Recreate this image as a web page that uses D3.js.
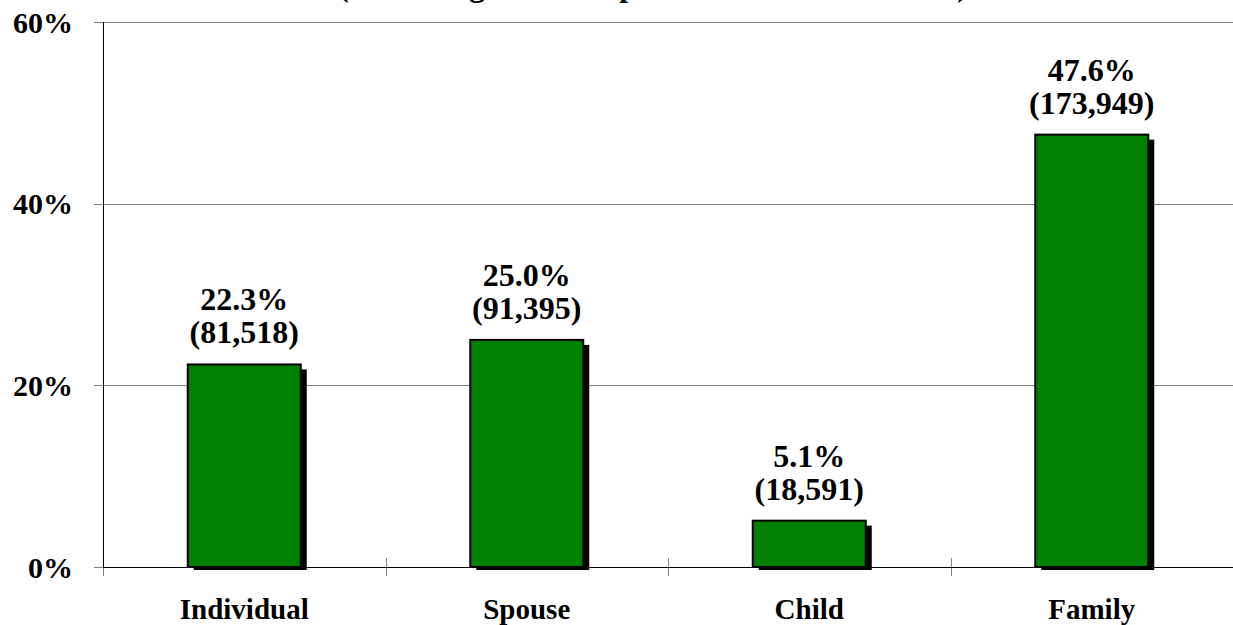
<!DOCTYPE html>
<meta charset="utf-8">
<style>
  body {
    margin: 0;
    background: #ffffff;
    font-family: "Liberation Serif", "Times New Roman", serif;
  }
  svg text {
    font-weight: bold;
    fill: #000000;
  }
  .grid line {
    stroke: #808080;
    stroke-width: 1;
    shape-rendering: crispEdges;
  }
  .ytick text { font-size: 30px; }
  .xlabel { font-size: 29px; }
  .vlabel { font-size: 32px; }
  .title { font-size: 32px; }
  .bar {
    fill: #008000;
    stroke: #000000;
    stroke-width: 2;
  }
  .shadow { fill: #000000; }
</style>
<body>
<script src="https://cdnjs.cloudflare.com/ajax/libs/d3/7.8.5/d3.min.js"></script>
<script>
var categories = ["Individual", "Spouse", "Child", "Family"];
var shares = [22.3, 25.0, 5.1, 47.6];
var counts = [81518, 91395, 18591, 173949];
var yTicks = [0, 20, 40, 60];

var width = 1233, height = 625;
var plotLeft = 103, plotRight = 1233, plotTop = 22, plotBottom = 567;

var svg = d3.select("body").append("svg")
    .attr("width", width)
    .attr("height", height);

var x = d3.scaleBand()
    .domain(categories)
    .range([plotLeft, plotRight])
    .paddingInner(0.6)
    .paddingOuter(0.3);

var y = d3.scaleLinear()
    .domain([0, 60])
    .range([plotBottom, plotTop]);

var step = x.step();
var fmtCount = d3.format(",");

// title, mostly cut off by the top edge
svg.append("text")
    .attr("class", "title")
    .attr("x", 338)
    .attr("y", -4)
    .text("(Percentage of Total persons Enrolled in 2004)");

// horizontal grid lines (the tick part sticks out left of the axis)
var grid = svg.append("g").attr("class", "grid");
grid.selectAll("line.yg")
  .data(yTicks.filter(function(d) { return d > 0; }))
  .enter().append("line")
    .attr("class", "yg")
    .attr("x1", plotLeft - 9)
    .attr("x2", plotRight)
    .attr("y1", function(d) { return Math.round(y(d)) + 0.5; })
    .attr("y2", function(d) { return Math.round(y(d)) + 0.5; });

// category boundary ticks on the x axis
var bounds = d3.range(1, categories.length).map(function(i) { return plotLeft + i * step; });
grid.selectAll("line.xt")
  .data(bounds)
  .enter().append("line")
    .attr("class", "xt")
    .attr("x1", function(d) { return Math.round(d) + 0.5; })
    .attr("x2", function(d) { return Math.round(d) + 0.5; })
    .attr("y1", plotBottom - 9)
    .attr("y2", plotBottom + 9);

// little gray tick at the origin
grid.append("line")
    .attr("x1", plotLeft - 9).attr("x2", plotLeft)
    .attr("y1", plotBottom + 0.5).attr("y2", plotBottom + 0.5);
grid.append("line")
    .attr("x1", plotLeft + 0.5).attr("x2", plotLeft + 0.5)
    .attr("y1", plotBottom).attr("y2", plotBottom + 9);

// y tick labels
svg.append("g").attr("class", "ytick")
  .selectAll("text")
  .data(yTicks)
  .enter().append("text")
    .attr("x", 73)
    .attr("y", function(d) { return y(d); })
    .attr("dy", "0.36em")
    .attr("text-anchor", "end")
    .text(function(d) { return d + "%"; });

// axes lines
svg.append("line")
    .attr("x1", plotLeft + 0.5).attr("x2", plotLeft + 0.5)
    .attr("y1", plotTop).attr("y2", plotBottom)
    .attr("stroke", "#000").attr("shape-rendering", "crispEdges");
svg.append("line")
    .attr("x1", plotLeft).attr("x2", plotRight)
    .attr("y1", plotBottom + 0.5).attr("y2", plotBottom + 0.5)
    .attr("stroke", "#000").attr("shape-rendering", "crispEdges");

// bars with drop shadow
var bars = svg.append("g").selectAll("g")
  .data(categories)
  .enter().append("g");

bars.append("rect")
    .attr("class", "shadow")
    .attr("x", function(d) { return x(d) + 6; })
    .attr("y", function(d, i) { return y(shares[i]) + 5; })
    .attr("width", x.bandwidth())
    .attr("height", function(d, i) { return plotBottom - y(shares[i]) - 2; });

bars.append("rect")
    .attr("class", "bar")
    .attr("x", function(d) { return x(d); })
    .attr("y", function(d, i) { return y(shares[i]); })
    .attr("width", x.bandwidth())
    .attr("height", function(d, i) { return plotBottom - y(shares[i]); });

// value labels
bars.append("text")
    .attr("class", "vlabel")
    .attr("text-anchor", "middle")
    .attr("x", function(d) { return x(d) + x.bandwidth() / 2; })
    .attr("y", function(d, i) { return y(shares[i]) - 54; })
    .text(function(d, i) { return shares[i].toFixed(1) + "%"; });

bars.append("text")
    .attr("class", "vlabel")
    .attr("text-anchor", "middle")
    .attr("x", function(d) { return x(d) + x.bandwidth() / 2; })
    .attr("y", function(d, i) { return y(shares[i]) - 21; })
    .text(function(d, i) { return "(" + fmtCount(counts[i]) + ")"; });

// category labels
bars.append("text")
    .attr("class", "xlabel")
    .attr("text-anchor", "middle")
    .attr("x", function(d) { return x(d) + x.bandwidth() / 2; })
    .attr("y", 619)
    .text(function(d) { return d; });
</script>
